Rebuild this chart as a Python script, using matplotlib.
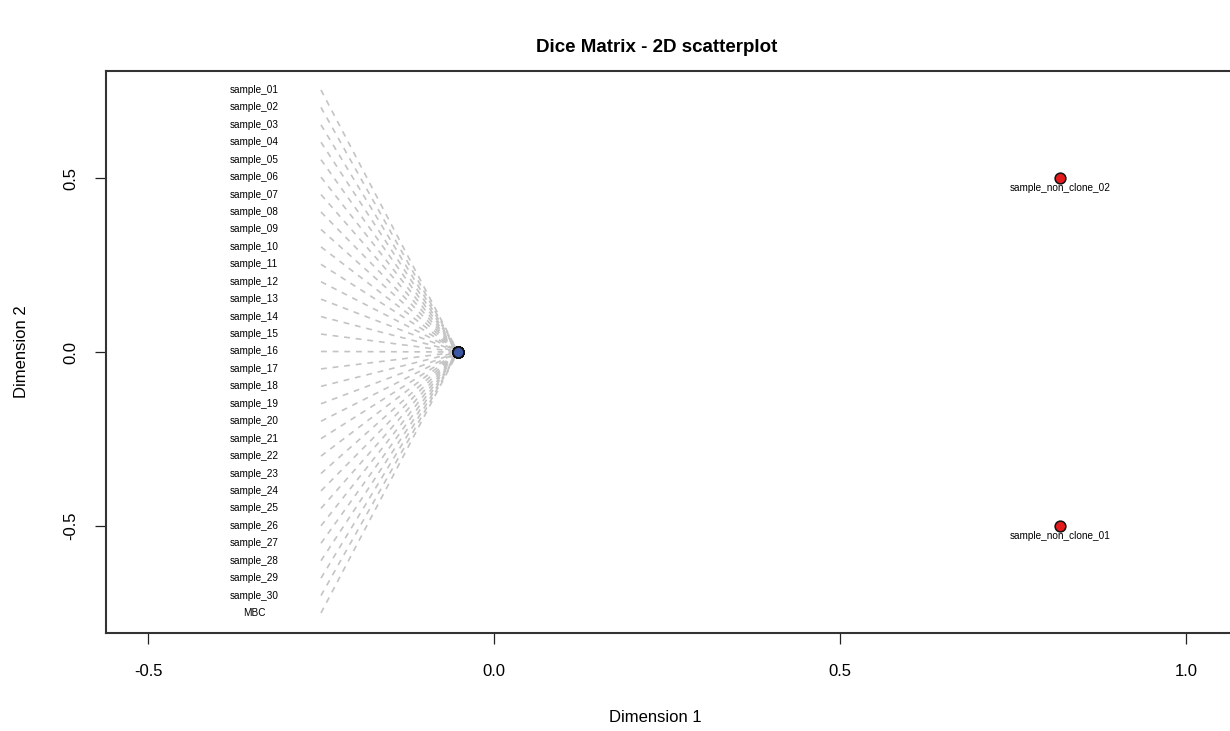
import numpy as np
import matplotlib
matplotlib.use("Agg")
import matplotlib.pyplot as plt

plt.rcParams['font.family'] = ['Liberation Sans', 'DejaVu Sans']

# ---- data ----
clone_names = [f"sample_{i:02d}" for i in range(1, 31)] + ["MBC"]
clone_x = [-0.052] * len(clone_names)
clone_y = [0.0] * len(clone_names)

nonclone_names = ["sample_non_clone_01", "sample_non_clone_02"]
nonclone_x = [0.818, 0.818]
nonclone_y = [-0.5, 0.5]

xticks = [-0.5, 0.0, 0.5, 1.0]
xtick_labels = ["-0.5", "0.0", "0.5", "1.0"]
yticks = [-0.5, 0.0, 0.5]
ytick_labels = ["-0.5", "0.0", "0.5"]

# ---- figure ----
W, H = 1230, 731
fig = plt.figure(figsize=(W / 100, H / 100), dpi=100)
left_px, right_px, top_px, bot_px = 106, 1245, 71, 633
ax = fig.add_axes([left_px / W, 1 - bot_px / H, (right_px - left_px) / W, (bot_px - top_px) / H])
ax.set_xlim(-0.5607, 1.0853)
ax.set_ylim(-0.8075, 0.8075)

# label layout for the stacked clone points
label_y = np.linspace(0.753, -0.75, len(clone_names))
label_x = -0.347
line_start_x = -0.25
for name, px, py, ly in zip(clone_names, clone_x, clone_y, label_y):
    ax.plot([line_start_x, px], [ly, py], color="#C4C4C4", lw=1.2,
            linestyle=(0, (3.5, 3.5)), zorder=1)
    ax.text(label_x, ly, name, fontsize=7.2, ha="center", va="center", zorder=3)

ax.scatter(clone_x, clone_y, s=60, facecolor="#3A56A5", edgecolor="#111111",
           linewidth=1.1, zorder=4)
ax.scatter(nonclone_x, nonclone_y, s=60, facecolor="#E41A1C", edgecolor="#111111",
           linewidth=1.1, zorder=4)
for name, px, py in zip(nonclone_names, nonclone_x, nonclone_y):
    ax.annotate(name, (px, py), xytext=(0, -3.5), textcoords="offset points",
                fontsize=7.2, ha="center", va="top", zorder=3)

ax.set_xticks(xticks)
ax.set_xticklabels(xtick_labels, fontsize=12)
ax.set_yticks(yticks)
ax.set_yticklabels(ytick_labels, fontsize=12, rotation=90, va="center")
ax.tick_params(axis="both", direction="out", length=8, width=0.9, pad=14, colors="#222222",
               labelcolor="black")
ax.tick_params(axis="y", pad=12)
for sp in ax.spines.values():
    sp.set_linewidth(1.5)
    sp.set_color("#333333")

fig.text(657 / W, 1 - 47 / H, "Dice Matrix - 2D scatterplot", fontsize=13.5,
         fontweight="bold", ha="center", va="center")
fig.text(655 / W, 1 - 718 / H, "Dimension 1", fontsize=12, ha="center", va="center")
fig.text(22 / W, 1 - 352 / H, "Dimension 2", fontsize=12, ha="center", va="center",
         rotation=90)

fig.savefig("out.png", dpi=100)
